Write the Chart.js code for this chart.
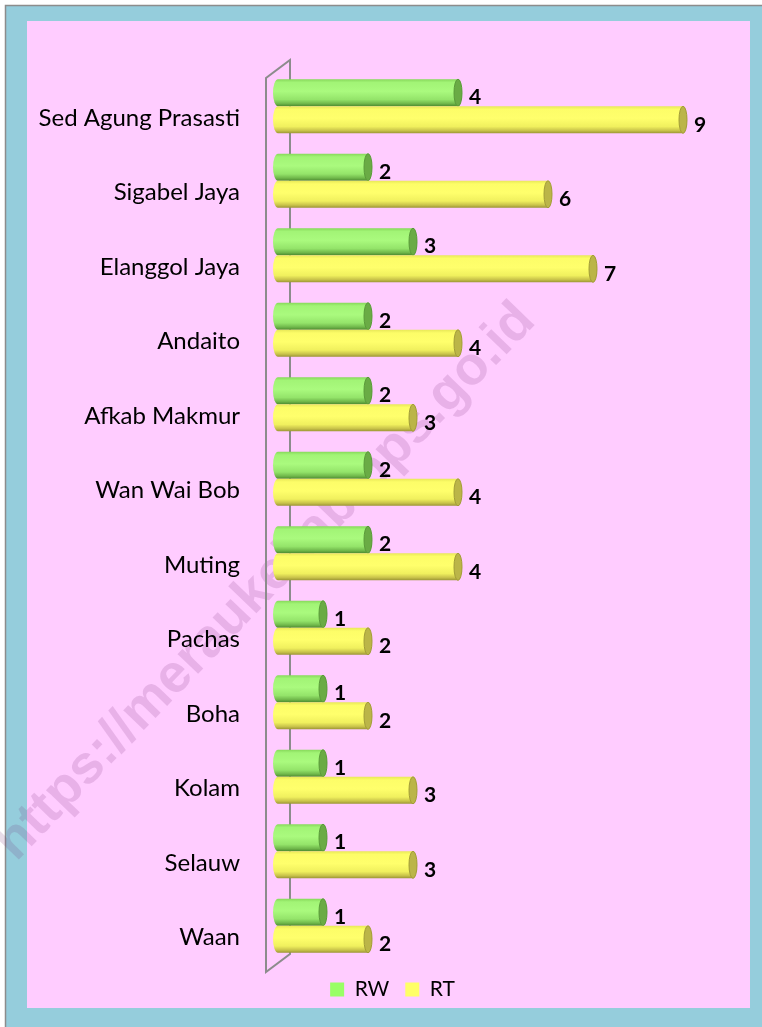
<!DOCTYPE html>
<html>
<head>
<meta charset="utf-8">
<script src="https://cdn.jsdelivr.net/npm/chart.js@4.4.1/dist/chart.umd.min.js"></script>
<style>
html,body{margin:0;padding:0;background:#fff;}
#wrap{width:762px;height:1027px;}
</style>
</head>
<body>
<div id="wrap"><canvas id="c" width="762" height="1027"></canvas></div>
<script>
const categories = ['Sed Agung Prasasti','Sigabel Jaya','Elanggol Jaya','Andaito','Afkab Makmur','Wan Wai Bob','Muting','Pachas','Boha','Kolam','Selauw','Waan'];
const rwValues = [4,2,3,2,2,2,2,1,1,1,1,1];
const rtValues = [9,6,7,4,3,4,4,2,2,3,3,2];
const seriesNames = ['RW','RT'];
const watermarkText = 'https://meraukekab.bps.go.id';

const FONT = 'Lato';

const styles = [
  { legend:'#99ff66', cap:'#6aab45', capEdge:'#5a9a3a',
    stops:[[0,'#86d85a'],[0.12,'#a2f476'],[0.45,'#aafa7e'],[0.75,'#94e46a'],[0.9,'#70b84b'],[1,'#4c8a30']] },
  { legend:'#ffff66', cap:'#bbb548', capEdge:'#a29c38',
    stops:[[0,'#e8e858'],[0.12,'#fdfd68'],[0.45,'#ffff6c'],[0.75,'#f0f05e'],[0.9,'#c8c24a'],[1,'#9a9434']] }
];

const bgPlugin = {
  id:'bg',
  afterLayout(chart){
    if (chart.legend) { chart.legend.left += 15; chart.legend.right += 15; }
  },
  beforeDraw(chart){
    const ctx = chart.ctx;
    ctx.save();
    ctx.fillStyle = '#ffffff';
    ctx.fillRect(0,0,762,1027);
    ctx.fillStyle = '#95cddc';
    ctx.fillRect(6,6,756,1021);
    ctx.strokeStyle = '#8c8c8c';
    ctx.lineWidth = 1.5;
    ctx.beginPath();
    ctx.moveTo(5.5,1027); ctx.lineTo(5.5,5.5); ctx.lineTo(762,5.5);
    ctx.stroke();
    ctx.fillStyle = '#ffccff';
    ctx.fillRect(27,21,723,987);
    // watermark
    ctx.translate(266,582);
    ctx.rotate(-46*Math.PI/180);
    ctx.font = 'bold 54px "Liberation Sans", Arial, sans-serif';
    ctx.textAlign = 'center';
    ctx.textBaseline = 'middle';
    ctx.fillStyle = 'rgba(120,50,120,0.17)';
    ctx.fillText(watermarkText,0,0);
    ctx.restore();
  },
  beforeDatasetsDraw(chart){
    const ctx = chart.ctx, a = chart.chartArea;
    ctx.save();
    ctx.strokeStyle = '#8c8c8c';
    ctx.lineWidth = 2;
    ctx.beginPath();
    ctx.moveTo(a.left-12, a.top+9);
    ctx.lineTo(a.left-12, a.bottom+9);
    ctx.lineTo(a.left+12, a.bottom-9);
    ctx.lineTo(a.left+12, a.top-9);
    ctx.closePath();
    ctx.stroke();
    ctx.restore();
  },
  beforeDatasetDraw(){ return false; },
  afterDatasetsDraw(chart){
    const ctx = chart.ctx;
    const rx = 4;
    chart.data.datasets.forEach((ds, di) => {
      const meta = chart.getDatasetMeta(di);
      const st = styles[di];
      meta.data.forEach((el, i) => {
        const p = el.getProps(['x','y','base','height'], true);
        const x0 = p.base, x1 = p.x, h = p.height, top = p.y - h/2, bot = p.y + h/2, ry = h/2;
        ctx.save();
        const g = ctx.createLinearGradient(0, top, 0, bot);
        st.stops.forEach(s => g.addColorStop(s[0], s[1]));
        ctx.beginPath();
        ctx.moveTo(x1, top);
        ctx.ellipse(x1, p.y, rx, ry, 0, -Math.PI/2, Math.PI/2, false);
        ctx.lineTo(x0, bot);
        ctx.ellipse(x0, p.y, rx+1, ry, 0, Math.PI/2, 3*Math.PI/2, false);
        ctx.closePath();
        ctx.fillStyle = g;
        ctx.fill();
        // end cap
        ctx.beginPath();
        ctx.ellipse(x1, p.y, rx, ry, 0, 0, Math.PI*2);
        ctx.fillStyle = st.cap;
        ctx.fill();
        ctx.lineWidth = 1;
        ctx.strokeStyle = st.capEdge;
        ctx.stroke();
        // value label
        ctx.fillStyle = '#000';
        ctx.font = 'bold 21px ' + FONT;
        ctx.textAlign = 'left';
        ctx.textBaseline = 'middle';
        ctx.fillText(String(ds.data[i]), x1 + rx + 7, p.y + 5);
        ctx.restore();
      });
    });
  }
};

function build(){
  new Chart(document.getElementById('c'), {
    type:'bar',
    data:{
      labels: categories,
      datasets:[
        { label: seriesNames[0], data: rwValues, backgroundColor: styles[0].legend },
        { label: seriesNames[1], data: rtValues, backgroundColor: styles[1].legend }
      ]
    },
    options:{
      indexAxis:'y',
      responsive:false,
      animation:false,
      devicePixelRatio:1,
      categoryPercentage:0.727,
      barPercentage:1.0,
      layout:{ padding:{ left:27, right:34, top:69, bottom:17 } },
      scales:{
        x:{ display:false, min:0, max:10 },
        y:{
          grid:{ display:false, drawTicks:false },
          border:{ display:false },
          ticks:{ color:'#000', font:{ family:FONT, size:24 }, padding:38, labelOffset:12 },
          afterFit(scale){ scale.width = 251; }
        }
      },
      plugins:{
        legend:{
          position:'bottom',
          labels:{ boxWidth:14, boxHeight:14, color:'#000', font:{ family:FONT, size:21 }, padding:16 }
        },
        tooltip:{ enabled:false }
      }
    },
    plugins:[bgPlugin]
  });
}
if (document.fonts && document.fonts.load) {
  Promise.all([document.fonts.load('24px Lato'), document.fonts.load('bold 21px Lato')]).then(build, build);
} else build();
</script>
</body>
</html>
